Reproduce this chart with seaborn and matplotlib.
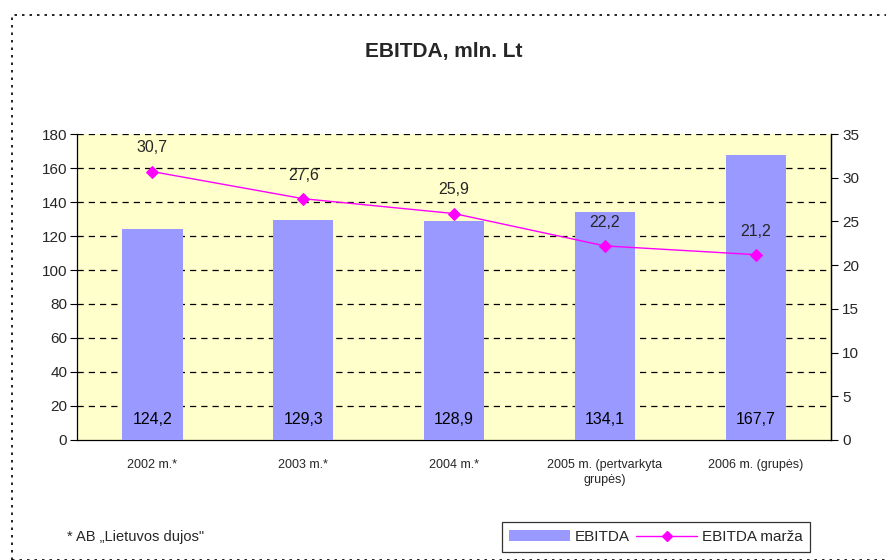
import matplotlib
matplotlib.use("Agg")
import matplotlib.pyplot as plt
import seaborn as sns
import numpy as np
import pandas as pd
from matplotlib.patches import Rectangle
from matplotlib.lines import Line2D
from matplotlib.patches import Patch

categories = ["2002 m.*", "2003 m.*", "2004 m.*", "2005 m. (pertvarkyta\ngrupės)", "2006 m. (grupės)"]
ebitda = [124.2, 129.3, 128.9, 134.1, 167.7]
marza = [30.7, 27.6, 25.9, 22.2, 21.2]
left_ticks = [0, 20, 40, 60, 80, 100, 120, 140, 160, 180]
right_ticks = [0, 5, 10, 15, 20, 25, 30, 35]

sns.set_style("white")
plt.rcParams['font.family'] = ['Liberation Sans', 'DejaVu Sans']

fig = plt.figure(figsize=(8.87, 5.60), dpi=100)
ax = fig.add_axes([0.0868, 0.2143, 0.8502, 0.5464])
ax.set_facecolor("#FFFFCC")

df = pd.DataFrame({"cat": categories, "ebitda": ebitda, "marza": marza})
sns.barplot(data=df, x="cat", y="ebitda", color="#9999FF", width=0.4,
            saturation=1, ax=ax)
for p in ax.patches:
    p.set_zorder(3)
    p.set_edgecolor("none")
ax.set_xlim(-0.5, 4.5)
ax.set_ylim(0, 180)
ax.set_yticks(left_ticks)
ax.set_xlabel("")
ax.set_ylabel("")
for y in left_ticks[1:]:
    ax.axhline(y, color="black", lw=0.9, ls=(0, (5, 4)), zorder=0.5)

ax.set_xticks(range(5))
ax.set_xticklabels(categories, fontsize=9, linespacing=1.3)
ax.set_xticks(np.arange(-0.5, 5, 1), minor=True)
ax.tick_params(axis="x", which="major", length=0, pad=14)
ax.tick_params(axis="x", which="minor", length=5, width=0.8, direction="out", color="black")
ax.tick_params(axis="y", length=5, width=0.8, direction="out", color="black", labelsize=11, pad=2)
for s in ["left", "bottom", "right"]:
    ax.spines[s].set_visible(True)
    ax.spines[s].set_color("black")
    ax.spines[s].set_linewidth(0.9)
ax.spines["top"].set_visible(False)

for i, v in enumerate(ebitda):
    ax.text(i, 12, f"{v:.1f}".replace(".", ","), ha="center", va="center",
            fontsize=11.5, color="black", zorder=5)

ax2 = ax.twinx()
sns.lineplot(x=np.arange(5), y=marza, ax=ax2, color="#FF00FF", lw=1,
             marker="D", markersize=6, markeredgecolor="#FF00FF", zorder=4)
ax2.set_ylim(0, 35)
ax2.set_yticks(right_ticks)
ax2.tick_params(axis="y", length=5, width=0.8, direction="out", color="black", labelsize=11, pad=3)
ax2.spines["top"].set_visible(False)
ax2.spines["left"].set_visible(False)
ax2.spines["bottom"].set_visible(False)
ax2.spines["right"].set_color("black")
ax2.spines["right"].set_linewidth(0.9)
for i, v in enumerate(marza):
    ax2.annotate(f"{v:.1f}".replace(".", ","), (i, v), xytext=(0, 17),
                 textcoords="offset points", ha="center", va="center", fontsize=11.5)

fig.text(0.5, 0.908, "EBITDA, mln. Lt", ha="center", va="center",
         fontsize=15, fontweight="bold")
fig.text(0.0755, 0.041, "* AB „Lietuvos dujos\"", ha="left", va="center", fontsize=10.5)

handles = [Patch(facecolor="#9999FF", edgecolor="none"),
           Line2D([0], [0], color="#FF00FF", lw=1, marker="D", markersize=5)]
leg = fig.legend(handles, ["EBITDA", "EBITDA marža"], ncol=2, loc="center",
                 bbox_to_anchor=(0.7395, 0.041), frameon=True, fancybox=False,
                 fontsize=11, handlelength=4.0, handletextpad=0.3, columnspacing=0.4,
                 borderpad=0.5)
leg.get_frame().set_edgecolor("black")
leg.get_frame().set_linewidth(0.9)

fig.patches.append(Rectangle((12/887, 0.0), 1.0, 1 - 15/560, transform=fig.transFigure,
                             fill=False, edgecolor="black", lw=1.2, ls=(0, (1.5, 3))))

fig.savefig("out.png", dpi=100)
